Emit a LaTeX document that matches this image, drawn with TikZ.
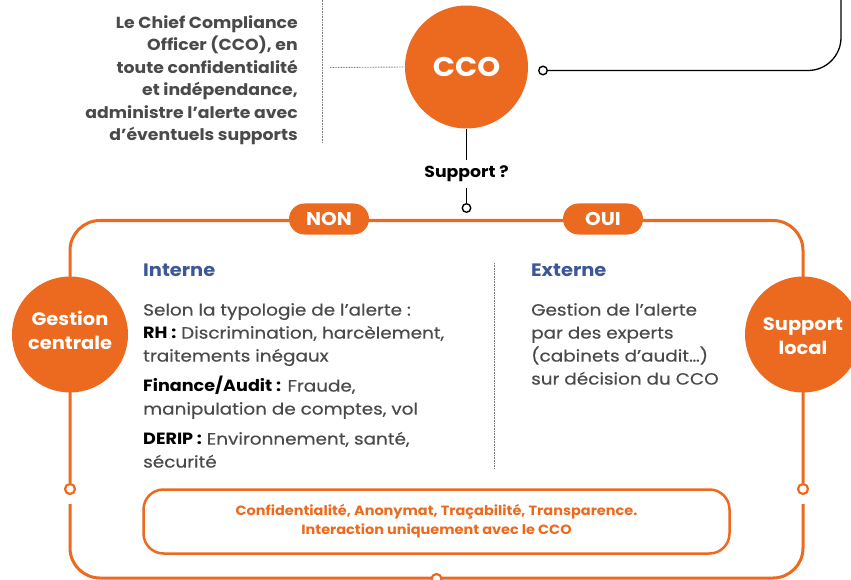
\documentclass[tikz,border=0pt]{standalone}
\usepackage{fontspec}
\setmainfont{Poppins}[FakeStretch=1.08]
\newfontfamily\bodyfont{Poppins}[FakeStretch=1.13,FakeBold=0.4]
\definecolor{org}{HTML}{EC6A1F}
\definecolor{blu}{HTML}{3D5897}
\definecolor{gtx}{HTML}{4A4A4A}
\definecolor{dotc}{HTML}{7A7A7A}
\newcommand{\lbl}[1]{\textcolor{black}{\rmfamily\bfseries #1}}
\begin{document}
\begin{tikzpicture}[x=1pt,y=-1pt,
  bigc/.style={circle,fill=org,text=white,inner sep=0pt,align=center,font=\bfseries\fontsize{18}{24}\selectfont},
  ctext/.style={text=white,inner sep=0pt,align=center,font=\bfseries\fontsize{18}{24}\selectfont},
  ring/.style={circle,draw=org,fill=white,line width=2.2pt,minimum size=10pt,inner sep=0pt},
  bring/.style={circle,draw=black,fill=white,line width=1.4pt,minimum size=8.5pt,inner sep=0pt},
  blk/.style={draw=black,line width=1.3pt},
  frame/.style={draw=org,line width=3pt},
  dotl/.style={draw=dotc,line width=0.9pt,dash pattern=on 0.8pt off 0.8pt},
  pill/.style={fill=org,text=white,rounded corners=15.5pt,minimum width=80pt,minimum height=31pt,inner sep=0pt,font=\bfseries\fontsize{18.5}{20}\selectfont},
  body/.style={text=gtx,align=left,anchor=north west,inner sep=0pt,font=\bodyfont\fontsize{16.3}{23}\selectfont},
  head/.style={text=blu,anchor=north west,inner sep=0pt,font=\bfseries\fontsize{18}{20}\selectfont}
]
\useasboundingbox (0,0) rectangle (851,580);

% top: CCO
\node[bigc,minimum size=123pt,font=\bfseries\fontsize{27}{30}\selectfont] (cco) at (466.5,67) {CCO};
\node[text=gtx,align=right,anchor=north east,inner sep=0pt,font=\bfseries\fontsize{16}{22.4}\selectfont] (intro) at (298,15.5)
  {Le Chief Compliance\\Officer (CCO), en\\toute confidentialité\\et indépendance,\\administre l’alerte avec\\d’éventuels supports};
\coordinate (dv1) at (322,-2);
\coordinate (dv2) at (322,143);
\coordinate (dh) at (330,67.5);
\draw[dotl] (dv1) -- (dv2);
\draw[dotl] (dh) -- (cco.west);

\node[bring] (c1) at (543,70.5) {};
\coordinate (tr) at (841,-10);
\draw[blk,rounded corners=33pt] (c1.east) -- (841,70.5) -- (tr);

\node[text=black,inner ysep=6pt,font=\bfseries\fontsize{16}{18}\selectfont] (sup) at (466.5,174) {Support ?};
\node[bring] (c2) at (466.5,208) {};
\draw[blk] (cco.south) -- (sup.north);
\draw[blk] (sup.south) -- (c2.north);

% frame
\node[ring] (lc) at (70,489) {};
\node[ring] (rc) at (803,489) {};
\coordinate (lb) at (70,504);
\coordinate (rb) at (803,504);
\draw[frame,rounded corners=30pt] (lc.north) -- (70,220.5) -- (803,220.5) -- (rc.north);
\draw[frame,rounded corners=30pt] (lb) -- (70,578) -- (803,578) -- (rb);
\node[ring] (bc) at (436.5,579) {};

\node[pill] (non) at (329,219) {NON};
\node[pill] (oui) at (603,219) {OUI};

\node[bigc,minimum size=116pt,label={[ctext,yshift=4.5pt]center:{Gestion\\centrale}}] (gc) at (70,334.5) {};
\node[bigc,minimum size=116pt,label={[ctext,yshift=-2pt]center:{Support\\local}}] (sl) at (803,334.5) {};

% columns
\node[head] (int) at (143,263.5) {Interne};
\node[body] (intb) at (143,303) {Selon la typologie de l’alerte :\\
  \lbl{RH :} Discrimination, harcèlement,\\
  traitements inégaux\\[7pt]
  \lbl{Finance/Audit :} Fraude,\\
  manipulation de comptes, vol\\[7pt]
  \lbl{DERIP :} Environnement, santé,\\
  sécurité};
\coordinate (mv1) at (494,263);
\coordinate (mv2) at (494,468);
\draw[dotl] (mv1) -- (mv2);
\node[head] (ext) at (531,263.5) {Externe};
\node[body] (extb) at (531,303) {Gestion de l’alerte\\par des experts\\(cabinets d’audit…)\\sur décision du CCO};

% bottom box
\node[draw=org,line width=2.5pt,rounded corners=20pt,minimum width=586pt,minimum height=64pt,text=org,align=center,font=\bfseries\fontsize{13.4}{19}\selectfont] (conf) at (436.5,521.5)
  {Confidentialité, Anonymat, Traçabilité, Transparence.\\Interaction uniquement avec le CCO};
\end{tikzpicture}
\end{document}
